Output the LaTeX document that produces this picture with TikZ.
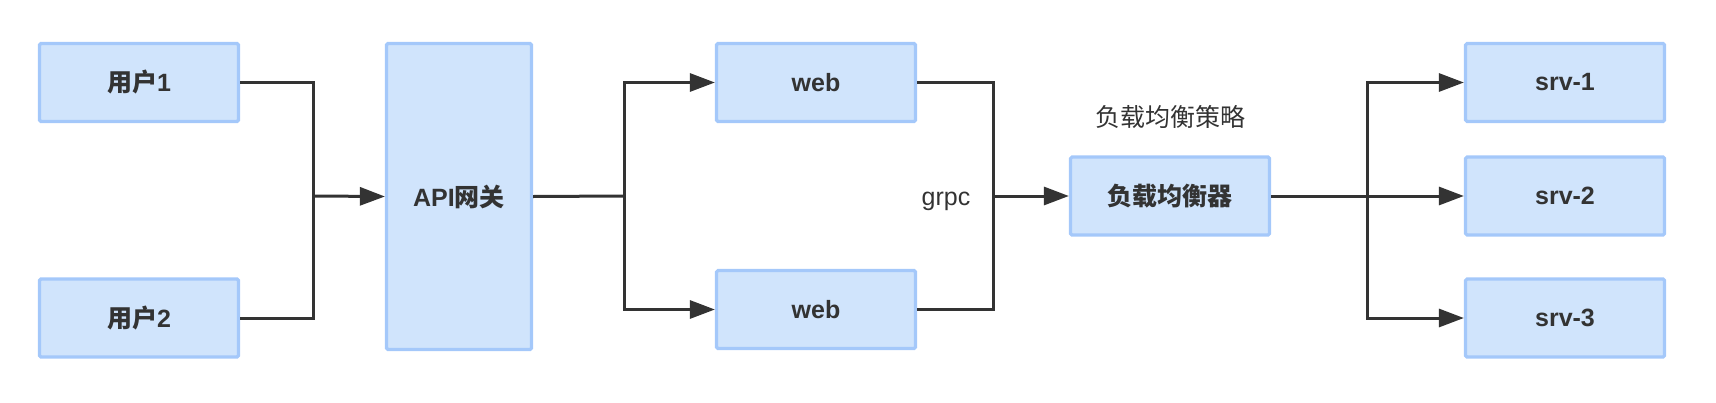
\documentclass[tikz,border=0pt]{standalone}
\usepackage{fontspec}
\setmainfont{Liberation Sans}
\newfontfamily\cjk{Noto Sans CJK SC}
\usetikzlibrary{arrows.meta}
\definecolor{boxfill}{RGB}{208,228,252}
\definecolor{boxline}{RGB}{164,200,250}
\definecolor{ink}{RGB}{51,51,51}
\tikzset{
  box/.style={draw=boxline, fill=boxfill, line width=3.2pt, rounded corners=1.5pt,
    minimum width=199pt, minimum height=78pt, inner sep=0pt,
    text=ink, font=\fontsize{25}{30}\selectfont\bfseries},
  conn/.style={draw=ink, line width=3pt},
  arr/.style={conn, -{Triangle[length=25pt,width=18pt]}},
  lbl/.style={text=ink, font=\fontsize{25}{30}\selectfont, inner sep=0pt}
}
\begin{document}
\begin{tikzpicture}[x=1pt,y=-1pt]
\useasboundingbox (0,0) rectangle (1716,402);
\node[box] (u1) at (139,82.5) {{\cjk 用户}1};
\node[box] (u2) at (139,318) {{\cjk 用户}2};
\node[box, minimum width=145pt, minimum height=306pt] (api) at (459,196.5) {API{\cjk 网关}};
\node[box] (web1) at (816,82.5) {web};
\node[box] (web2) at (816,309.5) {web};
\node[box] (lb) at (1170,196) {{\cjk 负载均衡器}};
\node[box] (s1) at (1565,82.5) {srv-1};
\node[box] (s2) at (1565,196) {srv-2};
\node[box] (s3) at (1565,318) {srv-3};
\node[lbl] (grpc) at (946,201) {grpc};
\node[lbl] (policy) at (1170,117) {{\cjk 负载均衡策略}};
\coordinate (j1) at (313,196);
\coordinate (j2) at (624,196);
\coordinate (j3) at (993,196);
\coordinate (j4) at (1367,196);
\draw[conn] (u1.east) -| (j1) |- (u2.east);
\draw[arr] (j1) -- (api.west);
\draw[conn] (api.east) -- (j2);
\draw[arr] (j2) |- (web1.west);
\draw[arr] (j2) |- (web2.west);
\draw[conn] (web1.east) -| (j3) |- (web2.east);
\draw[arr] (j3) -- (lb.west);
\draw[conn] (lb.east) -- (j4);
\draw[arr] (j4) |- (s1.west);
\draw[arr] (j4) -- (s2.west);
\draw[arr] (j4) |- (s3.west);
\end{tikzpicture}
\end{document}
